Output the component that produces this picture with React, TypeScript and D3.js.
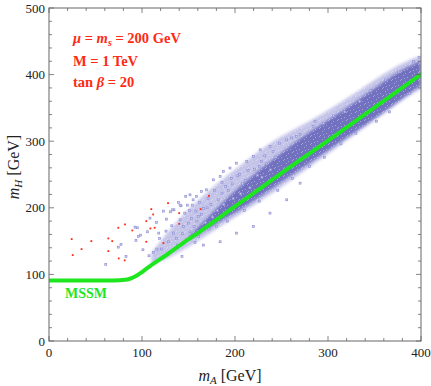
import React from "react";
import * as d3 from "d3";

const W = 431;
const H = 386;

// MSSM prediction m_H(m_A)
const mssmA = [0, 70, 82, 87, 94, 100, 108.6, 126.6, 144, 162, 200, 259, 300, 400];
const mssmH = [91, 91, 91.8, 93.5, 98, 103.5, 112.5, 129.5, 147, 164, 202, 261, 301, 400.5];

// dense core of the scan (m_A, lower m_H, upper m_H)
const coreA = [150, 175, 200, 220, 240, 260, 280, 300, 320, 340, 360, 380, 400];
const coreLo = [152, 172, 192, 210, 229, 248, 267, 286, 305, 324, 344, 364, 384];
const coreHi = [156, 192, 226, 250, 272, 294, 314, 332, 350, 370, 390, 408, 421];

// looser halo around the core
const haloA = [110, 130, 150, 170, 190, 210, 230, 250, 270, 290, 310, 330, 350, 370, 390, 400];
const haloLo = [114, 125, 141, 159, 177, 195, 213, 231, 251, 271, 291, 311, 331, 351, 371, 378];
const haloHi = [132, 168, 198, 224, 247, 268, 290, 308, 322, 338, 355, 373, 392, 410, 424, 428];

// scattered scan points outside the bulk
const bluePts: [number, number][] = [
  [61, 115], [74.5, 141], [77.4, 145], [82.8, 127], [92.5, 171], [95, 170], [96, 157],
  [93.5, 151], [98.6, 159], [101, 137], [106, 164], [107.5, 128], [108.6, 184.5],
  [112.5, 133], [115.8, 178], [116, 138], [118, 162], [119, 154], [121, 138], [123, 195],
  [125.8, 165], [126.5, 183], [128.7, 149], [130.8, 194], [132, 173], [133.7, 162],
  [134.4, 197], [137, 154], [138, 144], [139.4, 208], [141, 182], [142, 203], [143, 127],
  [143.7, 161], [144.4, 172], [146, 192], [147, 217], [148, 152], [148.7, 204],
  [149.8, 177], [151, 196], [151.6, 164], [153, 184], [155, 212], [156, 172], [157, 148],
  [158, 195], [158.8, 217], [160.5, 187], [161, 157], [133, 197], [141, 204],
  [151.6, 219.5], [164, 224.5], [169.5, 227], [176.7, 242], [184, 247], [187.4, 254.6],
  [194.6, 259.7], [201.8, 267], [212.6, 269.6], [219.7, 277], [227, 287], [237.6, 292],
  [248, 297], [255.6, 302], [266, 307], [184, 149], [166, 144], [201.8, 162],
  [219.7, 172], [237.6, 192], [255.6, 212], [270, 237], [205, 250], [228.7, 269.6],
  [241, 284.7], [261, 305], [270, 310], [284, 322], [295, 327], [170, 200], [176, 186],
  [182, 212], [190, 232], [196, 244], [208, 236], [214, 256], [226, 262], [232, 278],
  [244, 276], [172, 168], [180, 172], [192, 180], [210, 196], [226, 210], [246, 226],
  [262, 244], [280, 262], [296, 276], [314, 296], [330, 312], [352, 330], [366, 344],
  [388, 372], [306, 338], [318, 344], [334, 360], [346, 376], [362, 392], [376, 404],
  [392, 420], [398, 426], [286, 330], [164, 190], [168, 178], [186, 222], [198, 214],
  [154, 204], [159, 180], [162, 208], [166, 199], [171, 214], [174, 205], [178, 226],
  [181, 196], [186, 238], [188, 205], [193, 226], [197, 236], [203, 248], [206, 221],
  [211, 241], [216, 230], [221, 258], [224, 249], [229, 246], [234, 266], [238, 257],
];

const redPts: [number, number][] = [
  [24.4, 153], [25.5, 129], [35, 138], [45.5, 150], [63.8, 154], [68, 150], [63.8, 135],
  [74.5, 170], [75, 124], [81.7, 175], [81.4, 121], [89.6, 166], [104.6, 180], [109, 169],
  [110, 198], [112, 190], [113.6, 170], [104.6, 149], [123, 147], [128, 207], [140, 192],
  [140, 176], [163, 198], [172, 218],
];

const xTicks = [0, 100, 200, 300, 400];
const yTicks = [0, 100, 200, 300, 400, 500];

const x = d3.scaleLinear().domain([0, 400]).range([49, 421]);
const y = d3.scaleLinear().domain([0, 500]).range([341, 8]);

const serif = "'Liberation Serif', 'Times New Roman', serif";
const red = "#ff2a14";
const green = "#1ee61e";
const axisCol = "#666";

export default function App() {
  const band = d3
    .area<[number, number, number]>()
    .x((d) => x(d[0]))
    .y0((d) => y(d[1]))
    .y1((d) => y(d[2]))
    .curve(d3.curveBasis);
  const halo = band(haloA.map((a, i) => [a, haloLo[i], haloHi[i]])) ?? "";
  const core = band(coreA.map((a, i) => [a, coreLo[i], coreHi[i]])) ?? "";

  const line = d3
    .line<number>()
    .x((d) => x(d))
    .y((_, i) => y(mssmH[i]))
    .curve(d3.curveMonotoneX);

  const [x0, x1] = x.range();
  const [y0, y1] = y.range();
  const minorX = x.ticks(20);
  const minorY = y.ticks(25);

  return (
    <svg width={W} height={H} style={{ position: "absolute", left: 0, top: 0 }} fontFamily={serif}>
      <defs>
        <filter id="soft" x="-5%" y="-5%" width="110%" height="110%">
          <feGaussianBlur stdDeviation="1.8" />
        </filter>
        <pattern id="speck" width={9} height={8} patternUnits="userSpaceOnUse">
          <rect x={0} y={1} width={1} height={1} fill="#fff" />
          <rect x={4} y={0} width={1} height={1} fill="#fff" />
          <rect x={7} y={3} width={1} height={1} fill="#fff" />
          <rect x={2} y={5} width={1} height={1} fill="#fff" />
          <rect x={5} y={7} width={1} height={1} fill="#fff" />
          <rect x={8} y={6} width={1} height={1} fill="#fff" />
        </pattern>
        <clipPath id="plot">
          <rect x={x0} y={y1} width={x1 - x0} height={y0 - y1} />
        </clipPath>
      </defs>
      <rect width={W} height={H} fill="#fff" />

      <g clipPath="url(#plot)">
        <g filter="url(#soft)">
          <path d={halo} fill="#9c9cda" opacity={0.6} />
          <path d={core} fill="#6262ba" opacity={0.85} />
        </g>
        <path d={halo} fill="url(#speck)" opacity={0.35} />
        {bluePts.map(([a, h], i) => (
          <rect key={i} x={x(a) - 1} y={y(h) - 1} width={2} height={2}
            fill="#cfcff0" stroke="#8c8cd2" strokeWidth={0.6} />
        ))}
        {redPts.map(([a, h], i) => (
          <rect key={i} x={x(a) - 0.9} y={y(h) - 0.9} width={1.8} height={1.8} fill={red} />
        ))}
        <path d={line(mssmA) ?? ""} fill="none" stroke={green} strokeWidth={4} strokeLinecap="round" />
      </g>

      {/* frame */}
      <rect x={x0} y={y1} width={x1 - x0} height={y0 - y1} fill="none" stroke={axisCol} strokeWidth={1} />
      {minorX.map((t) => {
        const len = t % 100 === 0 ? 5 : 3;
        return (
          <g key={t} stroke={axisCol} strokeWidth={0.8}>
            <line x1={x(t)} x2={x(t)} y1={y0} y2={y0 - len} />
            <line x1={x(t)} x2={x(t)} y1={y1} y2={y1 + len} />
          </g>
        );
      })}
      {minorY.map((t) => {
        const len = t % 100 === 0 ? 5 : 3;
        return (
          <g key={t} stroke={axisCol} strokeWidth={0.8}>
            <line x1={x0} x2={x0 + len} y1={y(t)} y2={y(t)} />
            <line x1={x1} x2={x1 - len} y1={y(t)} y2={y(t)} />
          </g>
        );
      })}
      {xTicks.map((t) => (
        <text key={t} x={x(t)} y={357} textAnchor="middle" fontSize={13} fill="#222">{t}</text>
      ))}
      {yTicks.map((t) => (
        <text key={t} x={x0 - 4} y={y(t) + 4.5} textAnchor="end" fontSize={13} fill="#222">{t}</text>
      ))}

      {/* axis titles */}
      <text x={230} y={381} textAnchor="middle" fontSize={16} fill="#222">
        <tspan fontStyle="italic">m</tspan>
        <tspan fontStyle="italic" fontSize={11} dy={3}>A</tspan>
        <tspan dy={-3}> [GeV]</tspan>
      </text>
      <text transform="translate(19,167) rotate(-90)" textAnchor="middle" fontSize={16} fill="#222">
        <tspan fontStyle="italic">m</tspan>
        <tspan fontStyle="italic" fontSize={11} dy={3}>H</tspan>
        <tspan dy={-3}> [GeV]</tspan>
      </text>

      {/* annotations */}
      <g fill={red} fontWeight="bold" fontSize={14.5}>
        <text x={73} y={43}>
          <tspan fontStyle="italic">μ</tspan> = <tspan fontStyle="italic">m</tspan>
          <tspan fontStyle="italic" fontSize={10} dy={3}>s</tspan>
          <tspan dy={-3}> = 200 GeV</tspan>
        </text>
        <text x={73} y={66}>M = 1 TeV</text>
        <text x={73} y={87}>tan <tspan fontStyle="italic">β</tspan> = 20</text>
      </g>
      <text x={65} y={298} fill={green} fontWeight="bold" fontSize={14}>MSSM</text>
    </svg>
  );
}
